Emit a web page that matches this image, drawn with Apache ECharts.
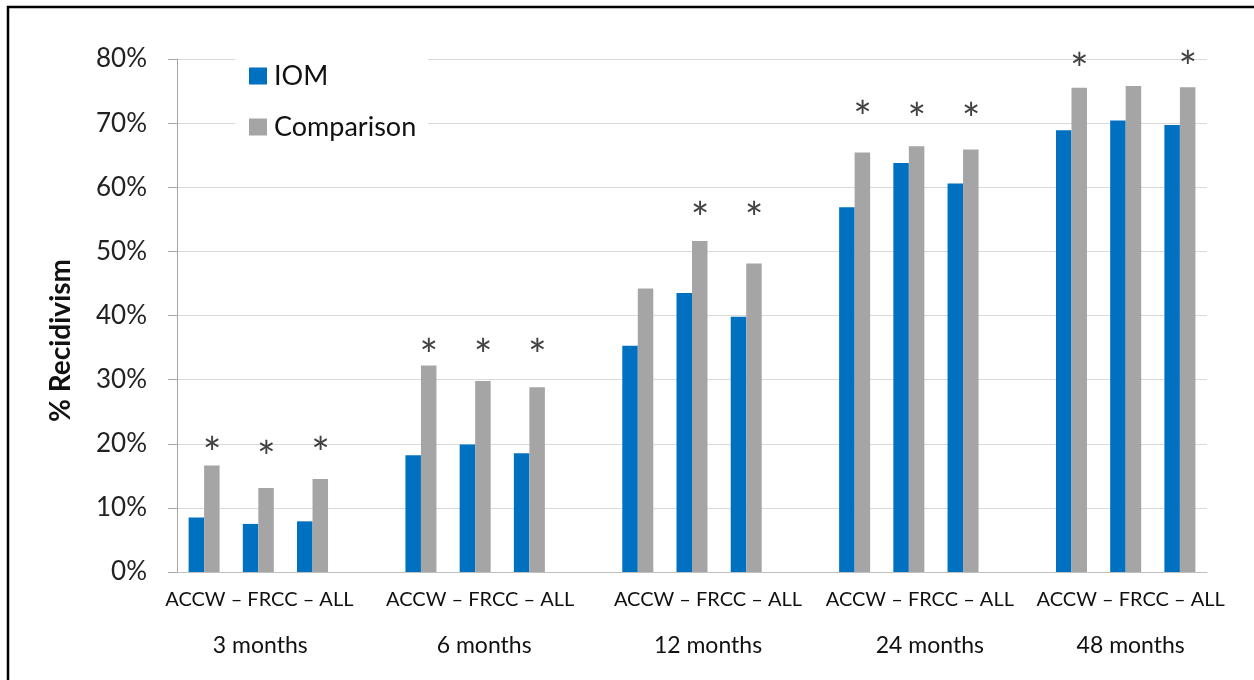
<!DOCTYPE html>
<html>
<head>
<meta charset="utf-8">
<script src="https://cdn.jsdelivr.net/npm/echarts@6/dist/echarts.min.js"></script>
<style>
html,body{margin:0;padding:0;background:#fff;}
#chart{width:1254px;height:680px;}
</style>
</head>
<body>
<div id="chart"></div>
<script>
// ---- data ----
var groups = ['3 months', '6 months', '12 months', '24 months', '48 months'];
var subgroups = ['ACCW', 'FRCC', 'ALL'];
var iom3 = [8.5, 7.5, 7.9];
var iom6 = [18.2, 19.9, 18.5];
var iom12 = [35.3, 43.5, 39.8];
var iom24 = [56.9, 63.8, 60.6];
var iom48 = [68.9, 70.4, 69.7];
var comp3 = [16.6, 13.1, 14.5];
var comp6 = [32.2, 29.8, 28.8];
var comp12 = [44.2, 51.6, 48.1];
var comp24 = [65.4, 66.4, 65.9];
var comp48 = [75.5, 75.8, 75.6];
// height (in %) of the significance asterisk; null = not significant
var star3 = [20.1, 19.5, 20.1];
var star6 = [35.4, 35.4, 35.4];
var star12 = [null, 56.8, 56.8];
var star24 = [72.6, 72.2, 72.2];
var star48 = [80.0, null, 80.4];
var yTicks = ['0%', '10%', '20%', '30%', '40%', '50%', '60%', '70%', '80%'];

// ---- build slots (3 subgroups + 1 gap per group, no trailing gap) ----
var iomAll = [iom3, iom6, iom12, iom24, iom48];
var compAll = [comp3, comp6, comp12, comp24, comp48];
var starAll = [star3, star6, star12, star24, star48];
var cats = [], iomData = [], compData = [], starData = [];
var labelIdx = {};
groups.forEach(function (g, gi) {
  subgroups.forEach(function (s, si) {
    var key = g + ' ' + s;
    cats.push(key);
    if (si === 1) labelIdx[key] = gi;
    iomData.push(iomAll[gi][si]);
    compData.push(compAll[gi][si]);
    starData.push(starAll[gi][si] == null ? '-' : starAll[gi][si]);
  });
  if (gi < groups.length - 1) {
    cats.push('gap' + gi);
    iomData.push('-'); compData.push('-'); starData.push('-');
  }
});

// label horizontal shifts (layout only)
var shiftTop = [1, 5, 16, 11, 5];
var shiftBot = [2, 9, 16, 21, 5];
var rich = {};
for (var i = 0; i < 5; i++) {
  rich['a' + i] = {fontSize: 20, lineHeight: 24, color: '#111', fontFamily: 'Lato',
    padding: [0, 0, 0, shiftTop[i] * 2]};
  rich['b' + i] = {fontSize: 23, lineHeight: 68, color: '#111', fontFamily: 'Lato',
    padding: [0, 0, 0, shiftBot[i] * 2]};
}

var chart = echarts.init(document.getElementById('chart'));
chart.setOption({
  animation: false,
  backgroundColor: '#fff',
  textStyle: {fontFamily: 'Lato'},
  grid: {left: 177, right: 47, top: 59, bottom: 108},
  legend: {
    data: ['IOM', 'Comparison'],
    orient: 'vertical',
    left: 235, top: 53,
    padding: [8, 12, 8, 14],
    backgroundColor: '#fff',
    itemWidth: 18, itemHeight: 17, itemGap: 21,
    icon: 'rect',
    textStyle: {fontSize: 27, color: '#111', fontFamily: 'Lato', lineHeight: 30, padding: [0, 0, 0, 2]}
  },
  xAxis: {
    type: 'category',
    data: cats,
    axisLine: {lineStyle: {color: '#bfbfbf', width: 1}},
    axisTick: {show: false},
    axisLabel: {
      interval: 0,
      margin: 16,
      formatter: function (v) {
        if (!(v in labelIdx)) return '';
        var gi = labelIdx[v];
        return '{a' + gi + '|' + subgroups.join(' \u2013 ') + '}\n{b' + gi + '|' + groups[gi] + '}';
      },
      rich: rich
    }
  },
  yAxis: {
    type: 'value',
    min: 0, max: 80, interval: 10,
    name: '% Recidivism',
    nameLocation: 'middle',
    nameGap: 102,
    nameTextStyle: {fontSize: 28, fontWeight: 'bold', color: '#111', fontFamily: 'Lato', padding: [0, 50, 0, 0]},
    axisLine: {show: true, lineStyle: {color: '#a6a6a6', width: 1}},
    axisTick: {show: true, length: 9, inside: false, lineStyle: {color: '#a6a6a6'}},
    splitLine: {lineStyle: {color: '#d9d9d9', width: 1}},
    axisLabel: {
      margin: 30, fontSize: 26, color: '#222', fontFamily: 'Lato',
      formatter: function (v) { return yTicks[Math.round(v / 10)]; }
    }
  },
  series: [
    {name: 'IOM', type: 'bar', data: iomData, barWidth: 15.5, barGap: '0%',
      itemStyle: {color: '#0070C0'}},
    {name: 'Comparison', type: 'bar', data: compData, barWidth: 15.5, barGap: '0%',
      itemStyle: {color: '#A5A5A5'}},
    {name: 'sig', type: 'scatter', data: starData, symbolSize: 0, silent: true, clip: false,
      label: {show: true, position: 'inside', formatter: '*', fontSize: 44, color: '#111',
        fontFamily: 'Lato', offset: [8, 12]}}
  ],
  graphic: [
    {type: 'polyline', shape: {points: [[8, 680], [8, 7], [1254, 7]]},
      style: {stroke: '#000', lineWidth: 2.5, fill: null}}
  ]
});
</script>
</body>
</html>
